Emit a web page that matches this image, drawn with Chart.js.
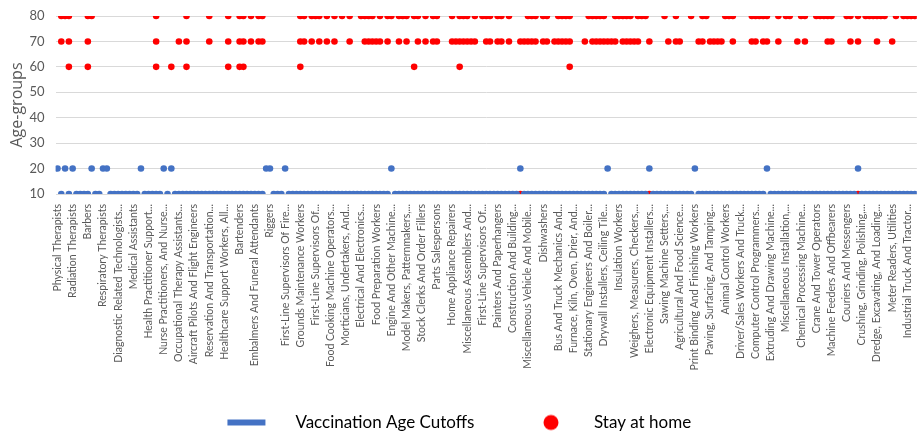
<!DOCTYPE html>
<html>
<head>
<meta charset="utf-8">
<script src="https://cdn.jsdelivr.net/npm/chart.js@4.4.1/dist/chart.umd.min.js"></script>
<style>
	html, body { margin: 0; padding: 0; background: #fff; }
	canvas { display: block; }
</style>
</head>
<body>
<canvas id="graphique-age" width="922" height="433"></canvas>
<script>
// one label shown for every 4 occupations on the axis
const occupationLabels = [
	"Physical Therapists", "Radiation Therapists", "Barbers", "Respiratory Therapists",
	"Diagnostic Related Technologists...", "Medical Assistants", "Health Practitioner Support...",
	"Nurse Practitioners, And Nurse...", "Occupational Therapy Assistants...", "Aircraft Pilots And Flight Engineers",
	"Reservation And Transportation...", "Healthcare Support Workers, All...", "Bartenders",
	"Embalmers And Funeral Attendants", "Riggers", "First-Line Supervisors Of Fire...",
	"Grounds Maintenance Workers", "First-Line Supervisors Of...", "Food Cooking Machine Operators...",
	"Morticians, Undertakers, And...", "Electrical And Electronics...", "Food Preparation Workers",
	"Engine And Other Machine...", "Model Makers, Patternmakers,...", "Stock Clerks And Order Fillers",
	"Parts Salespersons", "Home Appliance Repairers", "Miscellaneous Assemblers And...",
	"First-Line Supervisors Of...", "Painters And Paperhangers", "Construction And Building...",
	"Miscellaneous Vehicle And Mobile...", "Dishwashers", "Bus And Truck Mechanics And...",
	"Furnace, Kiln, Oven, Drier, And...", "Stationary Engineers And Boiler...", "Drywall Installers, Ceiling Tile...",
	"Insulation Workers", "Weighers, Measurers, Checkers,...", "Electronic Equipment Installers...",
	"Sawing Machine Setters,...", "Agricultural And Food Science...", "Print Binding And Finishing Workers",
	"Paving, Surfacing, And Tamping...", "Animal Control Workers", "Driver/Sales Workers And Truck...",
	"Computer Control Programmers...", "Extruding And Drawing Machine...", "Miscellaneous Installation,...",
	"Chemical Processing Machine...", "Crane And Tower Operators", "Machine Feeders And Offbearers",
	"Couriers And Messengers", "Crushing, Grinding, Polishing,...", "Dredge, Excavating, And Loading...",
	"Meter Readers, Utilities", "Industrial Truck And Tractor..."
];
const labelEvery = 4;

// vaccination age cutoff, one value per occupation (227 occupations)
const vaccinationCutoff = [
	20,10,20,10,20,10,10,10,10,20,10,10,20,20,10,10,10,10,10,10,
	10,10,20,10,10,10,10,10,20,10,20,10,10,10,10,10,10,10,10,10,
	10,10,10,10,10,10,10,10,10,10,10,10,10,10,10,20,20,10,10,10,
	20,10,10,10,10,10,10,10,10,10,10,10,10,10,10,10,10,10,10,10,
	10,10,10,10,10,10,10,10,20,10,10,10,10,10,10,10,10,10,10,10,
	10,10,10,10,10,10,10,10,10,10,10,10,10,10,10,10,10,10,10,10,
	10,10,20,10,10,10,10,10,10,10,10,10,10,10,10,10,10,10,10,10,
	10,10,10,10,10,20,10,10,10,10,10,10,10,10,10,10,20,10,10,10,
	10,10,10,10,10,10,10,10,20,10,10,10,10,10,10,10,10,10,10,10,
	10,10,10,10,10,10,10,20,10,10,10,10,10,10,10,10,10,10,10,10,
	10,10,10,10,10,10,10,10,10,10,10,20,10,10,10,10,10,10,10,10,
	10,10,10,10,10,10,10
];

// stay at home: occupation positions flagged for each age group
const stayHome80 = [1, 2, 3, 8, 9, 26, 34, 40, 45, 48, 49, 51, 53, 54, 64, 65, 67, 68, 69, 71, 73, 75, 77,
	80, 81, 82, 83, 85, 87, 88, 90, 91, 92, 94, 95, 97, 99, 100, 104, 106, 107, 108, 110, 112, 113, 114,
	116, 117, 119, 124, 125, 126, 128, 129, 132, 133, 134, 135, 140, 141, 142, 143, 144, 147, 148, 149,
	150, 151, 153, 154, 155, 160, 163, 167, 170, 171, 176, 177, 178, 183, 184, 185, 186, 187, 190, 192,
	193, 196, 197, 200, 201, 202, 203, 204, 208, 209, 211, 213, 214, 215, 216, 217, 218, 221, 223, 224, 225, 226];
const stayHome70 = [1, 3, 8, 26, 32, 34, 40, 45, 48, 49, 51, 53, 54, 64, 65, 67, 69, 71, 73, 77, 81, 82, 83,
	84, 85, 87, 90, 92, 95, 97, 99, 100, 104, 105, 106, 107, 108, 109, 110, 113, 114, 116, 117, 119, 122,
	123, 124, 125, 126, 128, 129, 131, 132, 133, 134, 135, 139, 141, 142, 143, 144, 145, 146, 147, 149,
	150, 151, 152, 153, 156, 161, 163, 164, 169, 170, 172, 173, 174, 175, 178, 183, 184, 186, 187, 190,
	195, 197, 203, 204, 209, 211, 216, 220];
const stayHome60 = [3, 8, 26, 30, 34, 45, 48, 49, 64, 94, 106, 135];
const stayHome10 = [122, 156, 211];

const vaccinationPoints = vaccinationCutoff.map((v, i) => ({x: i, y: v}));
const stayHomePoints = [
	...stayHome80.map(i => ({x: i, y: 80})),
	...stayHome70.map(i => ({x: i, y: 70})),
	...stayHome60.map(i => ({x: i, y: 60})),
	...stayHome10.map(i => ({x: i, y: 10})),
];

function legendKey(draw) {
	const c = document.createElement("canvas");
	c.width = 60;
	c.height = 18;
	draw(c.getContext("2d"));
	return c;
}
const blueKey = legendKey(g => { g.fillStyle = "#4472C4"; g.fillRect(8, 6, 38, 6); });
const redKey = legendKey(g => { g.fillStyle = "#FF0000"; g.beginPath(); g.arc(33, 9, 7.5, 0, Math.PI * 2); g.fill(); });

const nudgeLegend = {
	id: "nudgeLegend",
	afterLayout(chart) {
		const l = chart.legend;
		l.top += 8; l.bottom += 8;
		l.left -= 9; l.right -= 9;
	}
};
const clipTickLabels = {
	id: "clipTickLabels",
	afterDatasetsDraw(chart) {
		const ctx = chart.ctx;
		ctx.save();
		ctx.beginPath();
		ctx.rect(0, 0, chart.width, 377);
		ctx.clip();
	},
	afterDraw(chart) {
		chart.ctx.restore();
	}
};

const data = {
	datasets: [{
		label: "Vaccination Age Cutoffs",
		data: vaccinationPoints,
		showLine: false,
		backgroundColor: "#4472C4",
		borderColor: "#4472C4",
		pointRadius: 3.3,
		pointBorderWidth: 0,
	}, {
		label: "Stay at home",
		data: stayHomePoints,
		showLine: false,
		backgroundColor: "#FF0000",
		borderColor: "#FF0000",
		pointRadius: 3.3,
		pointBorderWidth: 0,
	}],
};

const config = {
	type: "scatter",
	data: data,
	plugins: [nudgeLegend, clipTickLabels],
	options: {
		responsive: false,
		animation: false,
		layout: {padding: {top: 16, right: 1, left: 0, bottom: 0}},
		plugins: {
			tooltip: {enabled: false},
			legend: {
				position: "bottom",
				labels: {
					usePointStyle: true,
					pointStyleWidth: 75,
					padding: 36,
					color: "#262626",
					font: {family: "Lato", size: 17},
					generateLabels: chart => chart.data.datasets.map((ds, i) => ({
						text: ds.label,
						pointStyle: i === 0 ? blueKey : redKey,
						fillStyle: ds.backgroundColor,
						strokeStyle: ds.borderColor,
						lineWidth: 0,
						hidden: false,
						datasetIndex: i,
					})),
				},
			},
		},
		scales: {
			x: {
				type: "linear",
				min: -0.5,
				max: vaccinationCutoff.length - 0.5,
				grid: {display: false},
				border: {display: false},
				afterBuildTicks: scale => {
					scale.ticks = occupationLabels.map((_, j) => ({value: j * labelEvery}));
				},
				afterFit: scale => { scale.height = 176; },
				ticks: {
					z: 1,
					autoSkip: false,
					minRotation: 90,
					maxRotation: 90,
					padding: 2,
					color: "#595959",
					font: {family: "Lato", size: 10.5},
					callback: value => occupationLabels[value / labelEvery],
				},
			},
			y: {
				min: 10,
				max: 80,
				afterFit: scale => {
					scale.width = 55.6;
					scale.paddingTop = 0;
					scale.paddingBottom = 0;
				},
				grid: {color: "#d9d9d9", drawTicks: false},
				border: {display: false},
				ticks: {
					stepSize: 10,
					padding: 11,
					color: "#595959",
					font: {family: "Lato", size: 13},
				},
				title: {
					display: true,
					text: "Age-groups",
					color: "#595959",
					font: {family: "Open Sans", size: 16},
					padding: {top: 8, bottom: 0},
				},
			},
		},
	},
};

const graphAge = new Chart(document.querySelector("#graphique-age"), config);
</script>
</body>
</html>
